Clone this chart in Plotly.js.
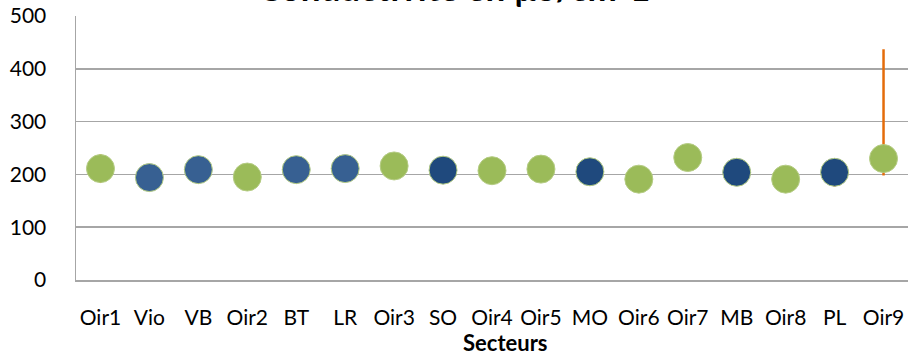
<!DOCTYPE html>
<html><head><meta charset="utf-8">
<script src="https://cdn.plot.ly/plotly-3.0.1.min.js"></script>
<style>html,body{margin:0;padding:0;background:#fff}#c{width:908px;height:353px}</style>
</head><body><div id="c"></div>
<script>
const categories = ["Oir1","Vio","VB","Oir2","BT","LR","Oir3","SO","Oir4","Oir5","MO","Oir6","Oir7","MB","Oir8","PL","Oir9"];
const values = [211, 194, 209, 195, 209, 211, 216, 208, 207, 210, 205, 191, 232, 204, 191, 204, 230];
const errPlus = [27, 0, 0, 0, 0, 0, 0, 0, 0, 0, 0, 0, 0, 0, 0, 0, 207];
const errMinus = [27, 0, 0, 0, 0, 0, 0, 0, 0, 0, 0, 0, 0, 0, 0, 27, 32];
const pointColors = ["#9BBB59","#376092","#376092","#9BBB59","#376092","#376092","#9BBB59","#1F497D","#9BBB59","#9BBB59","#1F497D","#9BBB59","#9BBB59","#1F497D","#9BBB59","#1F497D","#9BBB59"];
const yTicks = [0, 100, 200, 300, 400, 500];

const font = "Lato, 'Open Sans', sans-serif";
const trace = {
  type: "scatter", mode: "markers",
  x: categories, y: values,
  error_y: {type: "data", symmetric: false, array: errPlus, arrayminus: errMinus,
            color: "#E46C0A", thickness: 2.5, width: 0},
  marker: {size: 28, color: pointColors, line: {color: "#B5CC84", width: 1}},
  cliponaxis: false, hoverinfo: "skip"
};
const layout = {
  width: 908, height: 353,
  margin: {l: 76, r: 0, t: 16, b: 73},
  paper_bgcolor: "#fff", plot_bgcolor: "#fff",
  showlegend: false,
  title: {text: "<b>Conductivité en µS/cm-1</b>", x: 0.5, xref: "container", xanchor: "center",
          y: 0.997, yref: "container", yanchor: "bottom",
          font: {family: font, size: 35, color: "#000"}},
  xaxis: {type: "category", range: [-0.5, 16.5], showgrid: false, showline: true, linecolor: "#A6A6A6", linewidth: 1.5,
          ticks: "", tickfont: {family: font, size: 21, color: "#000"}, ticklabelstandoff: 18, fixedrange: true},
  yaxis: {range: [0, 500], tickvals: yTicks, showgrid: true, gridcolor: "#A6A6A6", gridwidth: 1.5,
          showline: true, linecolor: "#A6A6A6", linewidth: 1.5, zeroline: false, ticks: "",
          tickfont: {family: font, size: 21, color: "#000"}, ticklabelstandoff: 24, fixedrange: true},
  annotations: [{text: "<b>Secteurs</b>", xref: "paper", yref: "paper", x: 0.5156, y: -0.181,
                 xanchor: "center", yanchor: "top", showarrow: false, borderpad: 0,
                 font: {family: font, size: 22, color: "#000"}}]
};
Plotly.newPlot("c", [trace], layout, {displayModeBar: false, staticPlot: true});
</script></body></html>
